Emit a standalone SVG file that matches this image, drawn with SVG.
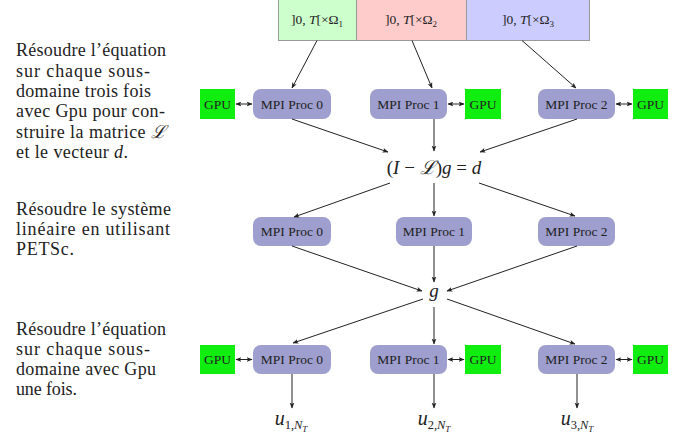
<svg xmlns="http://www.w3.org/2000/svg" width="677" height="433" viewBox="0 0 677 433">
  <style>
    .note { font-family: 'Liberation Serif', 'DejaVu Serif', serif; font-size: 18px; fill: #222; }
    .mpi rect { fill: #9e9ecf; }
    .gpu rect { fill: #10ee10; }
    .lbl { font-family: 'Liberation Serif', 'DejaVu Serif', serif; font-size: 13.5px; fill: #222; text-anchor: middle; }
    .math { font-family: 'Liberation Serif', 'DejaVu Serif', serif; fill: #222; text-anchor: middle; }
    .dom rect { stroke: #999; stroke-width: 1; }
    #connectors line { stroke: #222; stroke-width: 1; fill: none; }
    .arr { marker-end: url(#ah); }
    .dbl { marker-start: url(#ahs); marker-end: url(#ah); }
  </style>
  <defs>
    <marker id="ah" viewBox="0 0 10 10" refX="9" refY="5" markerWidth="6" markerHeight="6" orient="auto" markerUnits="userSpaceOnUse">
      <path d="M0,1 L10,5 L0,9 L2.5,5 Z" fill="#222"/>
    </marker>
    <marker id="ahs" viewBox="0 0 10 10" refX="1" refY="5" markerWidth="6" markerHeight="6" orient="auto" markerUnits="userSpaceOnUse">
      <path d="M10,1 L0,5 L10,9 L7.5,5 Z" fill="#222"/>
    </marker>
  </defs>
  <rect width="677" height="433" fill="#fff"/>

  <!-- side notes -->
  <g id="note1" class="note">
    <text x="16" y="56" textLength="150" lengthAdjust="spacing">Résoudre l’équation</text>
    <text x="16" y="76.5" textLength="134" lengthAdjust="spacing">sur chaque sous-</text>
    <text x="16" y="97" textLength="135" lengthAdjust="spacing">domaine trois fois</text>
    <text x="16" y="117" textLength="149" lengthAdjust="spacing">avec Gpu pour con-</text>
    <text x="16" y="137.5" textLength="150" lengthAdjust="spacing">struire la matrice <tspan font-style="italic">ℒ</tspan></text>
    <text x="16" y="158" textLength="112" lengthAdjust="spacing">et le vecteur <tspan font-style="italic">d</tspan>.</text>
  </g>
  <g id="note2" class="note">
    <text x="16" y="215" textLength="155" lengthAdjust="spacing">Résoudre le système</text>
    <text x="16" y="235" textLength="154" lengthAdjust="spacing">linéaire en utilisant</text>
    <text x="16" y="255" textLength="58" lengthAdjust="spacing">PETSc.</text>
  </g>
  <g id="note3" class="note">
    <text x="16" y="335" textLength="150" lengthAdjust="spacing">Résoudre l’équation</text>
    <text x="16" y="355" textLength="134" lengthAdjust="spacing">sur chaque sous-</text>
    <text x="16" y="375" textLength="140" lengthAdjust="spacing">domaine avec Gpu</text>
    <text x="16" y="395" textLength="61" lengthAdjust="spacing">une fois.</text>
  </g>

  <!-- subdomains -->
  <g id="dom1" class="dom">
    <rect x="278.5" y="-1" width="78" height="41.5" fill="#ccffcc"/>
    <text class="lbl" x="317" y="24">]0, <tspan font-style="italic">T</tspan>[×Ω<tspan font-size="9" dy="3">1</tspan></text>
  </g>
  <g id="dom2" class="dom">
    <rect x="356.5" y="-1" width="110" height="41.5" fill="#ffcccc"/>
    <text class="lbl" x="411" y="24">]0, <tspan font-style="italic">T</tspan>[×Ω<tspan font-size="9" dy="3">2</tspan></text>
  </g>
  <g id="dom3" class="dom">
    <rect x="466.5" y="-1" width="123" height="41.5" fill="#ccccff"/>
    <text class="lbl" x="528" y="24">]0, <tspan font-style="italic">T</tspan>[×Ω<tspan font-size="9" dy="3">3</tspan></text>
  </g>

  <!-- row 1 -->
  <g id="gpu1a" class="gpu"><rect x="200" y="89" width="35" height="30"/><text class="lbl" x="217.5" y="108.5">GPU</text></g>
  <g id="mpi1a" class="mpi"><rect x="253" y="89" width="78" height="30" rx="8"/><text class="lbl" x="292" y="108.5">MPI Proc 0</text></g>
  <g id="mpi1b" class="mpi"><rect x="370" y="89" width="77" height="30" rx="8"/><text class="lbl" x="408.5" y="108.5">MPI Proc 1</text></g>
  <g id="gpu1b" class="gpu"><rect x="465" y="89" width="36" height="30"/><text class="lbl" x="483" y="108.5">GPU</text></g>
  <g id="mpi1c" class="mpi"><rect x="538" y="89" width="77" height="30" rx="8"/><text class="lbl" x="576.5" y="108.5">MPI Proc 2</text></g>
  <g id="gpu1c" class="gpu"><rect x="633" y="89" width="35" height="30"/><text class="lbl" x="650.5" y="108.5">GPU</text></g>

  <!-- system -->
  <g id="system">
    <text class="math" x="434" y="174" font-size="19">(<tspan font-style="italic">I</tspan> − <tspan font-style="italic">ℒ</tspan>)<tspan font-style="italic">g</tspan> = <tspan font-style="italic">d</tspan></text>
  </g>

  <!-- row 2 -->
  <g id="mpi2a" class="mpi"><rect x="253" y="217" width="78" height="29" rx="8"/><text class="lbl" x="292" y="236">MPI Proc 0</text></g>
  <g id="mpi2b" class="mpi"><rect x="396" y="217" width="76" height="29" rx="8"/><text class="lbl" x="434" y="236">MPI Proc 1</text></g>
  <g id="mpi2c" class="mpi"><rect x="538" y="217" width="77" height="29" rx="8"/><text class="lbl" x="576.5" y="236">MPI Proc 2</text></g>

  <!-- solution -->
  <g id="sol"><text class="math" x="434" y="297" font-size="19" font-style="italic">g</text></g>

  <!-- row 3 -->
  <g id="gpu3a" class="gpu"><rect x="200" y="345" width="35" height="29"/><text class="lbl" x="217.5" y="364">GPU</text></g>
  <g id="mpi3a" class="mpi"><rect x="253" y="345" width="78" height="29" rx="8"/><text class="lbl" x="292" y="364">MPI Proc 0</text></g>
  <g id="mpi3b" class="mpi"><rect x="370" y="345" width="77" height="29" rx="8"/><text class="lbl" x="408.5" y="364">MPI Proc 1</text></g>
  <g id="gpu3b" class="gpu"><rect x="465" y="345" width="36" height="29"/><text class="lbl" x="483" y="364">GPU</text></g>
  <g id="mpi3c" class="mpi"><rect x="538" y="345" width="77" height="29" rx="8"/><text class="lbl" x="576.5" y="364">MPI Proc 2</text></g>
  <g id="gpu3c" class="gpu"><rect x="633" y="345" width="35" height="29"/><text class="lbl" x="650.5" y="364">GPU</text></g>

  <!-- outputs -->
  <g id="u1"><text class="math" x="291" y="425" font-size="20"><tspan font-style="italic">u</tspan><tspan font-size="12.5" dy="4">1,<tspan font-style="italic">N</tspan></tspan><tspan font-size="9" dy="3" font-style="italic">T</tspan></text></g>
  <g id="u2"><text class="math" x="434" y="425" font-size="20"><tspan font-style="italic">u</tspan><tspan font-size="12.5" dy="4">2,<tspan font-style="italic">N</tspan></tspan><tspan font-size="9" dy="3" font-style="italic">T</tspan></text></g>
  <g id="u3"><text class="math" x="577" y="425" font-size="20"><tspan font-style="italic">u</tspan><tspan font-size="12.5" dy="4">3,<tspan font-style="italic">N</tspan></tspan><tspan font-size="9" dy="3" font-style="italic">T</tspan></text></g>

  <!-- connectors -->
  <g id="connectors">
    <line class="arr" x1="317" y1="40.5" x2="292" y2="88"/>
    <line class="arr" x1="412" y1="40.5" x2="432" y2="88"/>
    <line class="arr" x1="522" y1="40.5" x2="576" y2="88"/>

    <line class="dbl" x1="236" y1="104" x2="252" y2="104"/>
    <line class="dbl" x1="448" y1="104" x2="464" y2="104"/>
    <line class="dbl" x1="616" y1="104" x2="632" y2="104"/>

    <line class="arr" x1="292" y1="119" x2="388" y2="152"/>
    <line class="arr" x1="434" y1="119" x2="434" y2="151"/>
    <line class="arr" x1="577" y1="119" x2="480" y2="152"/>

    <line class="arr" x1="390" y1="183" x2="294" y2="217"/>
    <line class="arr" x1="434" y1="183" x2="434" y2="216"/>
    <line class="arr" x1="479" y1="183" x2="575" y2="216"/>

    <line class="arr" x1="292" y1="246" x2="422" y2="291"/>
    <line class="arr" x1="434" y1="246" x2="434" y2="282"/>
    <line class="arr" x1="577" y1="246" x2="447" y2="291"/>

    <line class="arr" x1="423" y1="299" x2="293" y2="343"/>
    <line class="arr" x1="434" y1="307" x2="434" y2="344"/>
    <line class="arr" x1="447" y1="299" x2="575" y2="344"/>

    <line class="dbl" x1="236" y1="359.5" x2="252" y2="359.5"/>
    <line class="dbl" x1="448" y1="359.5" x2="464" y2="359.5"/>
    <line class="dbl" x1="616" y1="359.5" x2="632" y2="359.5"/>

    <line class="arr" x1="292" y1="374" x2="292" y2="408"/>
    <line class="arr" x1="434" y1="374" x2="434" y2="408"/>
    <line class="arr" x1="577" y1="374" x2="577" y2="408"/>
  </g>
</svg>
